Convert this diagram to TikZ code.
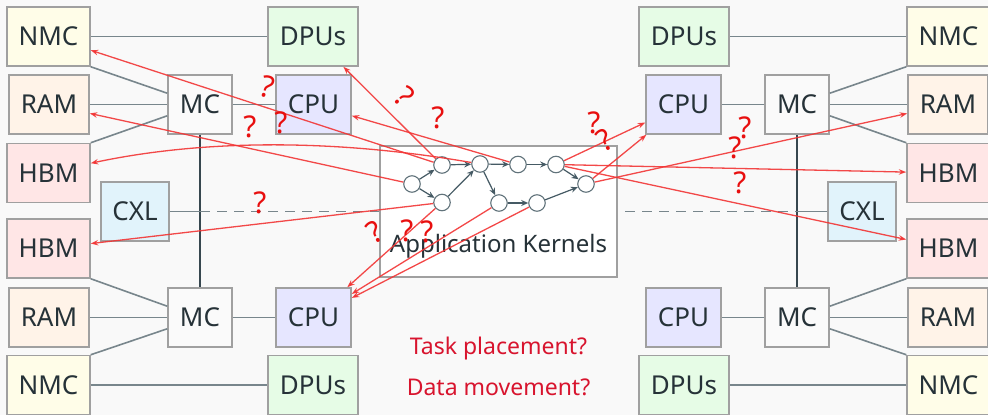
\documentclass[tikz,border=0pt]{standalone}
\usepackage{fontspec}
\setmainfont{Noto Sans}
\usetikzlibrary{arrows.meta,positioning}
\definecolor{bgc}{HTML}{F9F9F9}
\definecolor{txtc}{HTML}{263238}
\definecolor{bordc}{HTML}{A0A0A0}
\definecolor{linkc}{HTML}{78868C}
\definecolor{busc}{HTML}{37474F}
\definecolor{kerc}{HTML}{455A64}
\definecolor{arrc}{HTML}{F23535}
\definecolor{qmc}{HTML}{E80F0F}
\definecolor{asktc}{HTML}{D8142E}
\definecolor{nmcc}{HTML}{FFFDE8}
\definecolor{dpuc}{HTML}{E6FCE6}
\definecolor{ramc}{HTML}{FFF3E8}
\definecolor{hbmc}{HTML}{FFE6E6}
\definecolor{cpuc}{HTML}{E6E6FF}
\definecolor{cxlc}{HTML}{E1F3FB}
\definecolor{mcc}{HTML}{FAFAFA}
\tikzset{
  hw/.style={draw=bordc, line width=1.5pt, minimum height=59pt, inner sep=0pt,
    text=txtc, font=\fontsize{26}{30}\selectfont},
  nmc/.style={hw, fill=nmcc, minimum width=83pt},
  dpu/.style={hw, fill=dpuc, minimum width=90pt},
  ram/.style={hw, fill=ramc, minimum width=80pt},
  hbm/.style={hw, fill=hbmc, minimum width=83pt},
  cpu/.style={hw, fill=cpuc, minimum width=75pt},
  cxl/.style={hw, fill=cxlc, minimum width=68pt},
  mc/.style={hw, fill=mcc, minimum width=64pt},
  link/.style={linkc, line width=1.6pt},
  kern/.style={circle, draw=kerc!85, fill=white, line width=1.1pt, minimum size=16.5pt, inner sep=0pt},
  karr/.style={kerc, line width=1.2pt, -{Stealth[length=7pt,width=6pt]}},
  ask/.style={arrc, draw opacity=.9, line width=1.3pt, -{Stealth[length=7.5pt,width=5.5pt]}},
  qm/.style={text=qmc, font=\fontsize{30}{32}\selectfont, inner sep=0pt},
  asktext/.style={text=asktc, font=\fontsize{23}{26}\selectfont, anchor=base}
}
\begin{document}
\begin{tikzpicture}[x=1pt,y=-1pt]
	\fill[bgc] (0,0) rectangle (988,415);
	\useasboundingbox (0,0) rectangle (988,415);
	%left node
	\node[nmc] (nmcTL) at (48.5,36.5) {NMC};
	\node[dpu] (dpuTL) at (313,36.5) {DPUs};
	\node[ram] (ramTL) at (49,104.5) {RAM};
	\node[mc]  (mcTL)  at (200,104.5) {MC};
	\node[cpu] (cpuTL) at (313.5,104.5) {CPU};
	\node[hbm] (hbmTL) at (48.5,173) {HBM};
	\node[cxl] (cxlL)  at (135,211.5) {CXL};
	\node[hbm] (hbmBL) at (48.5,248.5) {HBM};
	\node[ram] (ramBL) at (49,317.5) {RAM};
	\node[mc]  (mcBL)  at (200,317.5) {MC};
	\node[cpu] (cpuBL) at (313.5,317.5) {CPU};
	\node[nmc] (nmcBL) at (48.5,385) {NMC};
	\node[dpu] (dpuBL) at (313,385) {DPUs};
	%right node
	\node[nmc] (nmcTR) at (948.5,36.5) {NMC};
	\node[dpu] (dpuTR) at (684,36.5) {DPUs};
	\node[ram] (ramTR) at (948,104.5) {RAM};
	\node[mc]  (mcTR)  at (797,104.5) {MC};
	\node[cpu] (cpuTR) at (683.5,104.5) {CPU};
	\node[hbm] (hbmTR) at (948.5,173) {HBM};
	\node[cxl] (cxlR)  at (862,211.5) {CXL};
	\node[hbm] (hbmBR) at (948.5,248.5) {HBM};
	\node[ram] (ramBR) at (948,317.5) {RAM};
	\node[mc]  (mcBR)  at (797,317.5) {MC};
	\node[cpu] (cpuBR) at (683.5,317.5) {CPU};
	\node[nmc] (nmcBR) at (948.5,385) {NMC};
	\node[dpu] (dpuBR) at (684,385) {DPUs};
	%links left
	\draw[link] (nmcTL) -- (dpuTL);
	\draw[link] (nmcTL.south east) -- (mcTL.161);
	\draw[link] (ramTL) -- (mcTL);
	\draw[link] (hbmTL.north east) -- (mcTL.199);
	\draw[link] (mcTL) -- (cpuTL);
	\draw[link] (hbmBL.south east) -- (mcBL.161);
	\draw[link] (ramBL) -- (mcBL);
	\draw[link] (nmcBL.north east) -- (mcBL.199);
	\draw[link] (mcBL) -- (cpuBL);
	\draw[link] (nmcBL) -- (dpuBL);
	%links right
	\draw[link] (nmcTR) -- (dpuTR);
	\draw[link] (nmcTR.south west) -- (mcTR.19);
	\draw[link] (ramTR) -- (mcTR);
	\draw[link] (hbmTR.north west) -- (mcTR.-19);
	\draw[link] (mcTR) -- (cpuTR);
	\draw[link] (hbmBR.south west) -- (mcBR.19);
	\draw[link] (ramBR) -- (mcBR);
	\draw[link] (nmcBR.north west) -- (mcBR.-19);
	\draw[link] (mcBR) -- (cpuBR);
	\draw[link] (nmcBR) -- (dpuBR);
	%memory bus and cxl
	\draw[busc, line width=1.1pt] (mcTL) -- (mcBL);
	\draw[busc, line width=1.1pt] (mcTR) -- (mcBR);
	\coordinate (cxlJL) at (mcTL |- cxlL);
	\coordinate (cxlJR) at (mcTR |- cxlR);
	\draw[link] (cxlL) -- (cxlJL);
	\draw[link] (cxlR) -- (cxlJR);
	\draw[link, dash pattern=on 10pt off 7pt] (cxlJL) -- (cxlJR);
	%kernels
	\node[draw=bordc, fill=white, line width=1.5pt, minimum width=237pt, minimum height=131pt] (kbox) at (498.5,211.5) {};
	\node[text=txtc, font=\fontsize{24}{28}\selectfont, anchor=base] (klabel) at (498.5,252) {Application Kernels};
	\node[kern] (k1) at (412,184) {};
	\node[kern] (k2) at (442,165) {};
	\node[kern] (k3) at (442,202.5) {};
	\node[kern] (k4) at (480,164) {};
	\node[kern] (k5) at (518,164.5) {};
	\node[kern] (k6) at (556,164.5) {};
	\node[kern] (k7) at (499,203) {};
	\node[kern] (k8) at (537,203) {};
	\node[kern] (k9) at (586,184) {};
	\foreach \a/\b in {k1/k2,k1/k3,k2/k4,k3/k4,k4/k5,k4/k7,k5/k6,k6/k9,k7/k8,k8/k9}
		\draw[karr] (\a) -- (\b);
	%placement arrows
	\draw[ask] (k2) -- (nmcTL);
	\draw[ask] (k2) -- (dpuTL);
	\draw[ask] (k1) -- (ramTL);
	\draw[ask] (k5) -- (cpuTL);
	\draw[ask] (k4) .. controls (330,138) and (200,140) .. (hbmTL.13);
	\draw[ask] (k3) -- (hbmBL);
	\draw[ask] (k3) -- (cpuBL);
	\draw[ask] (k7) -- (cpuBL);
	\draw[ask] (k8) -- (cpuBL);
	\draw[ask] (k6) -- (cpuTR);
	\draw[ask] (k9) -- (cpuTR);
	\draw[ask] (k9) -- (ramTR);
	\draw[ask] (k6) -- (hbmTR);
	\draw[ask] (k6) -- (hbmBR);
	%question marks
	\node[qm, rotate=-15] (q1) at (268,87) {?};
	\node[qm] (q2) at (250,127) {?};
	\node[qm] (q3) at (281,123) {?};
	\node[qm, rotate=-45] (q4) at (405,97) {?};
	\node[qm] (q5) at (438,118) {?};
	\node[qm] (q6) at (594,123) {?};
	\node[qm, rotate=30] (q7) at (605,140) {?};
	\node[qm] (q8) at (745,128) {?};
	\node[qm] (q9) at (735,148) {?};
	\node[qm] (q10) at (740,183) {?};
	\node[qm] (q11) at (260,203) {?};
	\node[qm, rotate=30] (q12) at (375,232) {?};
	\node[qm] (q13) at (407,231) {?};
	\node[qm] (q14) at (427,232) {?};
	%open questions
	\node[asktext] (task) at (498.5,354) {Task placement?};
	\node[asktext] (data) at (498.5,395) {Data movement?};
\end{tikzpicture}
\end{document}
